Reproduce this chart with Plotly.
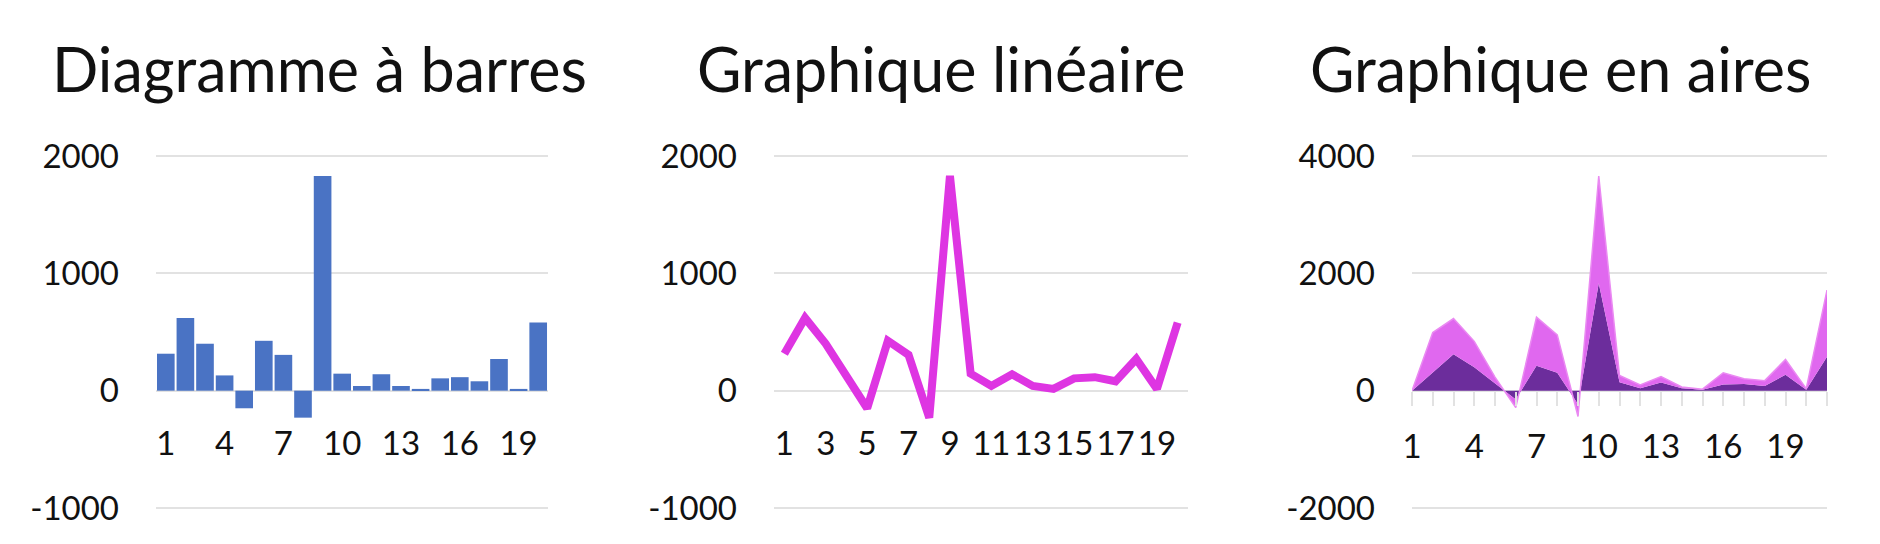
import plotly.graph_objects as go

# données
categories = list(range(1, 21))
valeurs = [315, 620, 400, 130, -150, 425, 305, -230, 1830, 145, 40, 140, 40, 15, 105, 115, 80, 270, 15, 580]

categories_aires = list(range(1, 22))
aire_fonce = [0, 315, 620, 400, 130, -150, 425, 305, -230, 1830, 145, 40, 140, 40, 15, 105, 115, 80, 270, 15, 580]
aire_clair = [0, 676, 610, 441, 102, -140, 827, 647, -210, 1828, 113, 58, 102, 23, 10, 200, 90, 91, 261, 20, 1134]

titres = ["Diagramme à barres", "Graphique linéaire", "Graphique en aires"]

# graduations de l'axe y (tiret simple comme sur l'image)
ticks_y12 = [-1000, 0, 1000, 2000]
labels_y12 = ["-1000", "0", "1000", "2000"]
ticks_y3 = [-2000, 0, 2000, 4000]
labels_y3 = ["-2000", "0", "2000", "4000"]

W, H = 1880, 544
police = "Lato"
grille = "#e2e2e2"

fig = go.Figure()

fig.add_trace(go.Bar(x=categories, y=valeurs, marker=dict(color="#4a73c4", line=dict(width=0)),
                     xaxis="x", yaxis="y"))
fig.add_trace(go.Scatter(x=categories, y=valeurs, mode="lines",
                         line=dict(color="#de35e2", width=8, shape="linear"),
                         xaxis="x2", yaxis="y2"))
fig.add_trace(go.Scatter(x=categories_aires, y=aire_fonce, mode="lines", stackgroup="a",
                         line=dict(width=0, color="#6c2d9c"), fillcolor="#6c2d9c",
                         xaxis="x3", yaxis="y3"))
fig.add_trace(go.Scatter(x=categories_aires, y=aire_clair, mode="lines", stackgroup="a",
                         line=dict(width=1.5, color="#ea8af2"), fillcolor="#e068ef",
                         xaxis="x3", yaxis="y3"))


def px_x(a, b):
    return [a / W, b / W]


# la page ajoute 8 px de marge : 2000 -> y=148 px, 0 -> y=383 px, -1000 -> y=500 px
ydom = [1 - 504 / H, 1 - 144 / H]
zero_y = 1 - 383 / H
tick_font = dict(family=police, size=33, color="#111111")

axe_y = dict(domain=ydom, showgrid=True, gridcolor=grille, gridwidth=2, zeroline=False,
             showline=False, ticks="", tickfont=tick_font, automargin=False, ticklabelstandoff=36,
             tickmode="array")
axe_x = dict(showgrid=False, zeroline=False, showline=False, tickfont=tick_font, automargin=False,
             ticklabelstandoff=30, tickmode="linear", tick0=1, anchor="free", position=zero_y)

fig.update_layout(
    width=W, height=H,
    margin=dict(l=0, r=0, t=0, b=0),
    paper_bgcolor="white", plot_bgcolor="white",
    showlegend=False, bargap=0.1,
    font=dict(family=police),
    xaxis=dict(axe_x, domain=px_x(148, 540), range=[0.5, 20.5], dtick=3),
    yaxis=dict(axe_y, range=[-1034, 2034], tickvals=ticks_y12, ticktext=labels_y12, anchor="x"),
    xaxis2=dict(axe_x, domain=px_x(766, 1180), range=[0.5, 20.5], dtick=2),
    yaxis2=dict(axe_y, range=[-1034, 2034], tickvals=ticks_y12, ticktext=labels_y12, anchor="x2"),
    xaxis3=dict(axe_x, domain=px_x(1404, 1819), range=[1, 21], dtick=3,
                ticks="outside", ticklen=14, tickwidth=2, tickcolor=grille, ticklabelstandoff=12,
                minor=dict(dtick=1, ticks="outside", ticklen=14, tickwidth=2, tickcolor=grille)),
    yaxis3=dict(axe_y, range=[-2068, 4068], tickvals=ticks_y3, ticktext=labels_y3, anchor="x3"),
)

centres = [311, 933, 1552]
for t, cx in zip(titres, centres):
    fig.add_annotation(text=t, x=cx / W, y=1 - 60 / H, xref="paper", yref="paper",
                       xanchor="center", yanchor="middle", showarrow=False,
                       font=dict(family=police, size=61, color="#111111"))

fig.write_html("out.html")
